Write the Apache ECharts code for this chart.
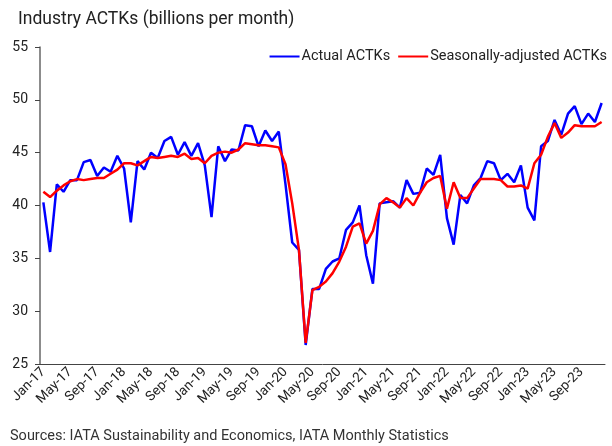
<!DOCTYPE html>
<html>
<head>
<meta charset="utf-8">
<script src="https://cdn.jsdelivr.net/npm/echarts@6/dist/echarts.min.js"></script>
<style>
html, body { margin: 0; padding: 0; background: #fff; }
#chart { width: 612px; height: 446px; }
</style>
</head>
<body>
<div id="chart"></div>
<script>
// months Jan-17 .. Dec-23
const monthNames = ['Jan', 'Feb', 'Mar', 'Apr', 'May', 'Jun', 'Jul', 'Aug', 'Sep', 'Oct', 'Nov', 'Dec']
const years = ['17', '18', '19', '20', '21', '22', '23']
const categories = []
years.forEach(y => monthNames.forEach(m => categories.push(m + '-' + y)))

// Actual ACTKs (billions per month)
const actual = [
  40.3, 35.6, 42.0, 41.3, 42.4, 42.4, 44.1, 44.3, 42.8, 43.6, 43.2, 44.7,
  43.5, 38.4, 44.2, 43.4, 45.0, 44.5, 46.1, 46.5, 44.8, 46.0, 44.7, 45.9,
  43.8, 38.9, 45.6, 44.2, 45.3, 45.2, 47.6, 47.5, 45.6, 47.1, 46.1, 47.0,
  42.0, 36.5, 35.8, 26.8, 32.1, 32.1, 34.0, 34.7, 35.0, 37.7, 38.4, 40.0,
  35.3, 32.6, 40.2, 40.3, 40.4, 39.8, 42.4, 41.1, 41.2, 43.5, 42.9, 44.8,
  38.8, 36.3, 41.0, 40.2, 41.9, 42.6, 44.2, 44.0, 42.4, 43.0, 42.2, 43.8,
  39.8, 38.6, 45.6, 46.1, 48.1, 46.7, 48.7, 49.4, 47.7, 48.7, 47.9, 49.7
]

// Seasonally-adjusted ACTKs
const adjusted = [
  41.3, 40.8, 41.4, 41.9, 42.3, 42.5, 42.4, 42.5, 42.6, 42.6, 43.0, 43.4,
  44.0, 44.0, 43.8, 44.2, 44.6, 44.5, 44.6, 44.7, 44.6, 44.9, 44.4, 44.5,
  44.0, 44.7, 45.0, 45.1, 45.0, 45.3, 45.9, 45.8, 45.7, 45.7, 45.6, 45.5,
  43.9, 40.2, 35.8, 27.0, 32.0, 32.3, 32.8, 33.6, 34.7, 36.1, 38.0, 38.3,
  36.4, 37.6, 40.1, 40.7, 40.3, 39.8, 40.7, 40.0, 41.2, 42.2, 42.6, 42.8,
  39.7, 42.2, 40.7, 40.7, 41.6, 42.5, 42.5, 42.5, 42.4, 41.8, 41.8, 41.9,
  41.6, 44.0, 44.8, 46.5, 47.8, 46.4, 46.9, 47.6, 47.5, 47.5, 47.5, 47.9
]

const seriesNames = ['Actual ACTKs', 'Seasonally-adjusted ACTKs']
const yTicks = { min: 25, max: 55, interval: 5 }

const fontFamily = 'Roboto, "Liberation Sans", sans-serif'
const chart = echarts.init(document.getElementById('chart'), null, { renderer: 'canvas' })

chart.setOption({
  animation: false,
  textStyle: { fontFamily: fontFamily },
  title: {
    text: 'Industry ACTKs (billions per month)',
    left: 13,
    top: 6,
    textStyle: { color: '#222', fontSize: 17.5, fontWeight: 'normal', fontFamily: fontFamily }
  },
  graphic: [{
    type: 'text',
    left: 10,
    top: 429,
    style: {
      text: 'Sources: IATA Sustainability and Economics, IATA Monthly Statistics',
      fill: '#333',
      fontSize: 14.5,
      fontFamily: fontFamily
    }
  }],
  legend: {
    data: seriesNames,
    right: 0,
    top: 44,
    itemWidth: 30,
    itemHeight: 2,
    itemGap: 8,
    icon: 'rect',
    textStyle: { color: '#222', fontSize: 14.5, padding: [0, 0, 0, -3] }
  },
  grid: {
    left: 40,
    right: 7,
    top: 47,
    bottom: 82,
    containLabel: false
  },
  xAxis: {
    type: 'category',
    data: categories,
    boundaryGap: true,
    axisLine: { lineStyle: { color: '#444', width: 1 } },
    axisTick: { interval: 3, length: 5, lineStyle: { color: '#444' } },
    axisLabel: {
      interval: 3,
      rotate: 45,
      color: '#222',
      fontSize: 13.5,
      margin: 6
    },
    splitLine: { show: false }
  },
  yAxis: {
    type: 'value',
    min: yTicks.min,
    max: yTicks.max,
    interval: yTicks.interval,
    axisLine: { show: true, lineStyle: { color: '#666', width: 1.5 } },
    axisTick: { show: true, length: 5, lineStyle: { color: '#444' } },
    axisLabel: { color: '#222', fontSize: 14, margin: 12 },
    splitLine: { show: false }
  },
  series: [
    {
      name: seriesNames[0],
      type: 'line',
      data: actual,
      showSymbol: false,
      symbol: 'none',
      lineStyle: { color: '#0000ff', width: 2.5 },
      itemStyle: { color: '#0000ff' }
    },
    {
      name: seriesNames[1],
      type: 'line',
      data: adjusted,
      showSymbol: false,
      symbol: 'none',
      lineStyle: { color: '#ff0000', width: 2.5 },
      itemStyle: { color: '#ff0000' }
    }
  ]
})
</script>
</body>
</html>
